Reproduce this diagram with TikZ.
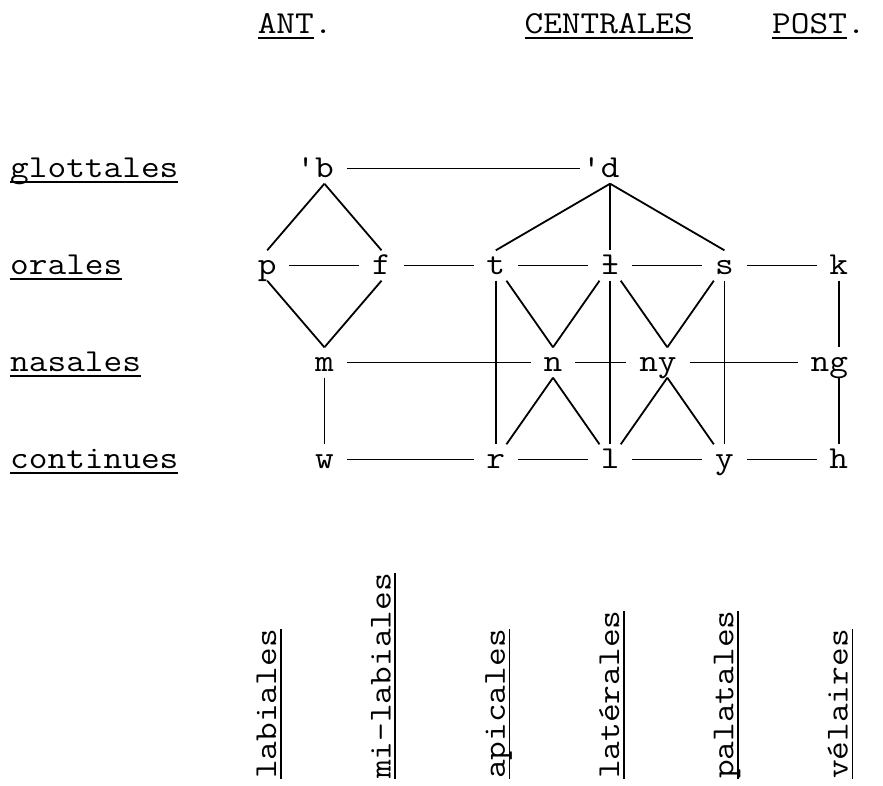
\documentclass[tikz,border=0pt]{standalone}
\usepackage{graphicx}
\newcommand\tw[1]{\scalebox{1.134}[1]{#1}}
\newcommand\ulin[1]{\setbox0=\hbox{#1}\rlap{\rule[-5.5pt]{\wd0}{1.6pt}}\box0}
\tikzset{
  ph/.style={rectangle, inner sep=0pt, minimum width=44pt, minimum height=30pt,
             text height=17pt, text depth=0pt, font=\fontsize{32}{36}\selectfont\ttfamily},
  lab/.style={inner sep=0pt, font=\fontsize{32}{36}\selectfont\ttfamily},
  edge/.style={line width=1.8pt},
}
\begin{document}
\begin{tikzpicture}[x=1pt,y=-1pt]
\useasboundingbox (0,0) rectangle (883,785);
% column centres and row centres
\def\ca{267.2}\def\cb{324.4}\def\cc{381.5}\def\cd{495.8}\def\ce{553}
\def\cf{610.1}\def\cg{667.3}\def\ch{724.4}\def\ci{838.7}
\def\ra{168.5}\def\rb{265.5}\def\rc{362.5}\def\rd{459.5}
% headers
\node[lab, anchor=base west] (ant) at (257.6,33) {\ulin{\tw{ANT}}\tw{.}};
\node[lab, anchor=base west] (cen) at (524.4,33) {\ulin{\tw{CENTRALES}}};
\node[lab, anchor=base west] (pos) at (772,33) {\ulin{\tw{POST}}\tw{.}};
% row labels
\node[lab, anchor=base west] (glo) at (10,177) {\ulin{\tw{glottales}}};
\node[lab, anchor=base west] (ora) at (10,274) {\ulin{\tw{orales}}};
\node[lab, anchor=base west] (nas) at (10,371) {\ulin{\tw{nasales}}};
\node[lab, anchor=base west] (con) at (10,468) {\ulin{\tw{continues}}};
% phoneme nodes
\node[ph] (b)  at (\cb,\ra) {\tw{\llap{\textquotesingle}b}};
\node[ph] (d)  at (\cf,\ra) {\tw{\llap{\textquotesingle}d}};
\node[ph] (p)  at (\ca,\rb) {\tw{p}};
\node[ph] (f)  at (\cc,\rb) {\tw{f}};
\node[ph] (t)  at (\cd,\rb) {\tw{t}};
\node[ph] (lb) at (\cf,\rb) {\tw{\rlap{l}-}};
\node[ph] (s)  at (\ch,\rb) {\tw{s}};
\node[ph] (k)  at (\ci,\rb) {\tw{k}};
\node[ph] (m)  at (\cb,\rc) {\tw{m}};
\node[ph] (n)  at (\ce,\rc) {\tw{n}};
\node[ph] (ny) at (\cg,\rc) {\tw{\llap{n}y}};
\node[ph] (ng) at (\ci,\rc) {\tw{\llap{n}g}};
\node[ph] (w)  at (\cb,\rd) {\tw{w}};
\node[ph] (r)  at (\cd,\rd) {\tw{r}};
\node[ph] (l)  at (\cf,\rd) {\tw{l}};
\node[ph] (y)  at (\ch,\rd) {\tw{y}};
\node[ph] (h)  at (\ci,\rd) {\tw{h}};
% bottom rotated labels
\node[lab, rotate=90, anchor=base west] (c1) at (\ca+9,779) {\ulin{\tw{labiales}}};
\node[lab, rotate=90, anchor=base west] (c2) at (\cc+9,779) {\ulin{\tw{mi-labiales}}};
\node[lab, rotate=90, anchor=base west] (c3) at (\cd+9,779) {\ulin{\tw{apicales}}};
\node[lab, rotate=90, anchor=base west] (c4) at (\cf+9,779) {\ulin{\tw{latérales}}};
\node[lab, rotate=90, anchor=base west] (c5) at (\ch+9,779) {\ulin{\tw{palatales}}};
\node[lab, rotate=90, anchor=base west] (c6) at (\ci+9,779) {\ulin{\tw{vélaires}}};
% connectors
\draw[edge] (b) -- ([xshift=-8pt]d.west);
\draw[edge] (b.south) -- (p.north);
\draw[edge] (b.south) -- (f.north);
\draw[edge] (p.south) -- (m.north);
\draw[edge] (f.south) -- (m.north);
\draw[edge] (p) -- (f);
\draw[edge] (f) -- (t);
\draw[edge] (t) -- (lb);
\draw[edge] (lb) -- (s);
\draw[edge] (s) -- (k);
\draw[edge] (d.south) -- (t.north);
\draw[edge] (d) -- (lb);
\draw[edge] (d.south) -- (s.north);
\draw[edge] (t) -- (n.north);
\draw[edge] (lb) -- (n.north);
\draw[edge] (lb) -- (ny.north);
\draw[edge] (s) -- (ny.north);
\draw[edge] (t) -- (r);
\draw[edge] (lb) -- (l);
\draw[edge] (s) -- (y);
\draw[edge] (k) -- (ng);
\draw[edge] (ng) -- (h);
\draw[edge] (m) -- (w);
\draw[edge] (m) -- (n);
\draw[edge] (n) -- ([xshift=-19pt]ny.west);
\draw[edge] (ny) -- ([xshift=-19pt]ng.west);
\draw[edge] (n.south) -- (r);
\draw[edge] (n.south) -- (l);
\draw[edge] (ny.south) -- (l);
\draw[edge] (ny.south) -- (y);
\draw[edge] (w) -- (r);
\draw[edge] (r) -- (l);
\draw[edge] (l) -- (y);
\draw[edge] (y) -- (h);
\end{tikzpicture}
\end{document}
